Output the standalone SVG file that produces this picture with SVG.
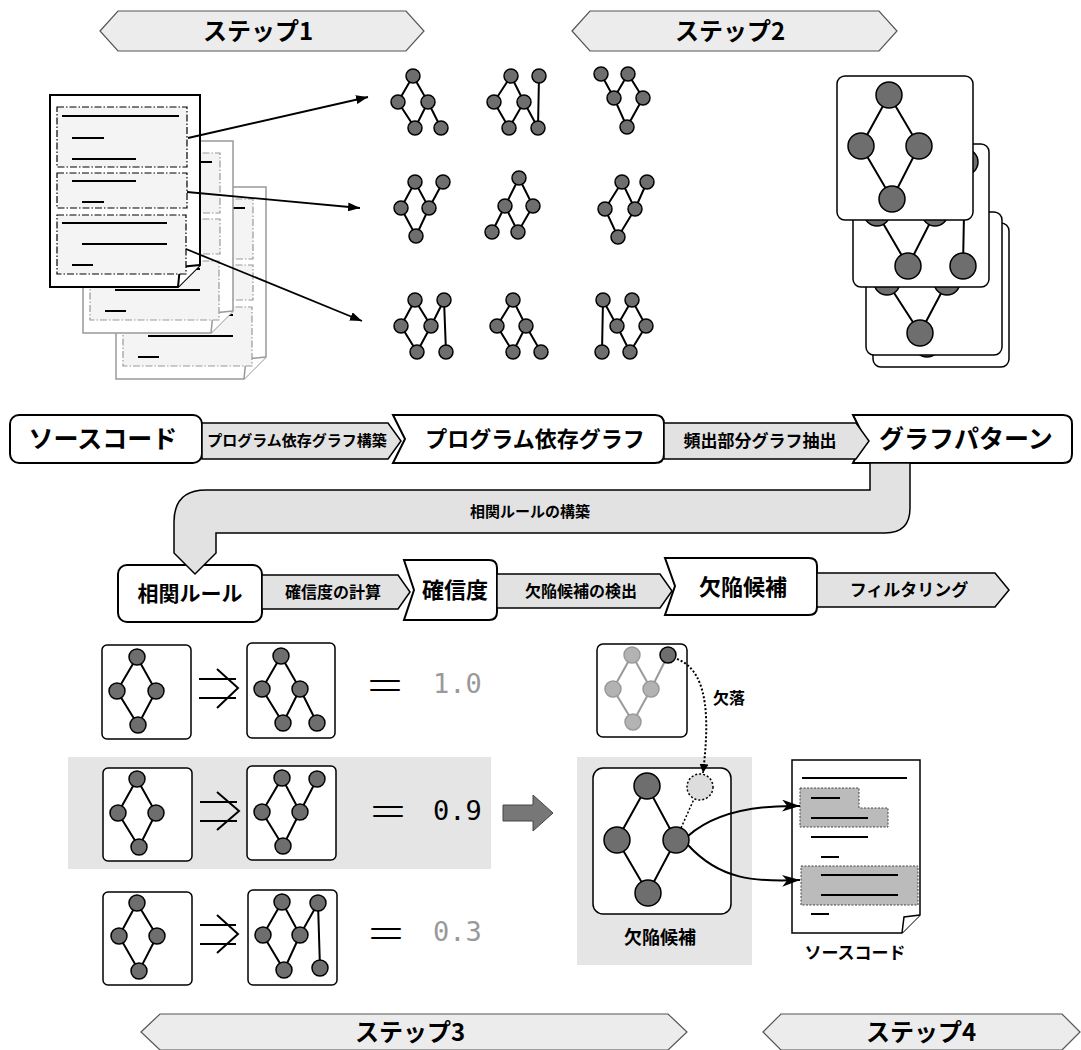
<svg xmlns="http://www.w3.org/2000/svg" width="1081" height="1050" viewBox="0 0 1081 1050">
<style>
text{font-family:"Noto Sans CJK JP","Noto Sans",sans-serif;font-weight:bold;fill:#000;text-anchor:middle}
.step{fill:#ececec;stroke:#555;stroke-width:1.2}
.st{font-size:24px}
.n{fill:#6e6e6e;stroke:#000;stroke-width:1.5}
.e{stroke:#000;stroke-width:2;fill:none}
.card{fill:#fff;stroke:#000;stroke-width:1.5}
.box{fill:#fff;stroke:#000;stroke-width:2}
.band{fill:#e2e2e2;stroke:#000;stroke-width:1.5}
.ln{stroke:#000;stroke-width:2}
.num{font-family:"DejaVu Sans Mono",monospace;font-weight:normal;font-size:27px;text-anchor:start}
.eq{font-weight:300;font-size:40px}
.hl{fill:#e5e5e5}
</style>
<defs>
<marker id="ah" viewBox="0 0 12 9" refX="12" refY="4.5" markerWidth="12" markerHeight="9" markerUnits="userSpaceOnUse" orient="auto"><path d="M0,0 L12,4.5 L0,9 Z" fill="#000"/></marker>
<marker id="ah2" viewBox="0 0 18 12" refX="18" refY="6" markerWidth="18" markerHeight="12" markerUnits="userSpaceOnUse" orient="auto"><path d="M0,0 L18,6 L0,12 L5,6 Z" fill="#000"/></marker>
<marker id="ah3" viewBox="0 0 9 9" refX="9" refY="4.5" markerWidth="9" markerHeight="9" markerUnits="userSpaceOnUse" orient="auto"><path d="M0,0 L9,4.5 L0,9 Z" fill="#000"/></marker>
<g id="doc">
<path d="M0,0 H150 V170 L128,192 H0 Z" fill="#fff"/>
<path d="M128,192 L130,172 L150,170" fill="#fff"/>
<g fill="#f4f4f4" stroke-dasharray="7,2,1.5,2" stroke-width="1.2">
<rect x="7" y="12" width="130" height="60"/>
<rect x="7" y="78" width="130" height="35"/>
<rect x="7" y="120" width="129" height="59"/>
</g>
<g stroke="#000" stroke-width="2">
<line x1="12" y1="21" x2="129" y2="21"/>
<line x1="22" y1="43" x2="54" y2="43"/>
<line x1="22" y1="64" x2="86" y2="64"/>
<line x1="22" y1="86" x2="86" y2="86"/>
<line x1="32" y1="107" x2="54" y2="107"/>
<line x1="12" y1="128" x2="117" y2="128"/>
<line x1="32" y1="149" x2="117" y2="149"/>
<line x1="22" y1="170" x2="43" y2="170"/>
</g>
</g>
</defs>

<!-- step banners -->
<g id="step1"><polygon class="step" points="100,31 118,11 406,11 424,31 406,51 118,51"/><text class="st" x="258" y="40">ステップ1</text></g>
<g id="step2"><polygon class="step" points="572,31 590,11 879,11 897,31 879,51 590,51"/><text class="st" x="730" y="40">ステップ2</text></g>
<g id="step3"><polygon class="step" points="141,1032 160,1014 668,1014 687,1032 668,1050 160,1050"/><text class="st" x="410" y="1041">ステップ3</text></g>
<g id="step4"><polygon class="step" points="763,1032 781,1014 1062,1014 1080,1032 1062,1050 781,1050"/><text class="st" x="921" y="1041">ステップ4</text></g>

<!-- highlight backgrounds -->
<rect class="hl" x="68" y="757" width="423" height="112"/>
<rect class="hl" x="577" y="757" width="175" height="208"/>

<!-- source documents -->
<g id="documents">
<use href="#doc" transform="translate(116,187)" stroke="#999" stroke-width="1.5"/>
<use href="#doc" transform="translate(83,141)" stroke="#999" stroke-width="1.5"/>
<use href="#doc" transform="translate(50,95)" stroke="#000" stroke-width="2"/>
</g>

<!-- graph patterns -->
<g id="patterns">
<g id="p1"><path class="e" d="M413,76 L398,102 L415,128 L428,102 Z M428,102 L441,128"/>
<circle class="n" cx="413" cy="76" r="7"/><circle class="n" cx="398" cy="102" r="7"/><circle class="n" cx="428" cy="102" r="7"/><circle class="n" cx="415" cy="128" r="7"/><circle class="n" cx="441" cy="128" r="7"/></g>
<g id="p2"><path class="e" d="M511,76 L494,102 L509,128 L524,102 Z M524,102 L538,128 M539,76 L538,128"/>
<circle class="n" cx="511" cy="76" r="7"/><circle class="n" cx="494" cy="102" r="7"/><circle class="n" cx="524" cy="102" r="7"/><circle class="n" cx="509" cy="128" r="7"/><circle class="n" cx="538" cy="128" r="7"/><circle class="n" cx="539" cy="76" r="7"/></g>
<g id="p3"><path class="e" d="M628,74 L614,98 L627,127 L643,98 Z M601,74 L614,98"/>
<circle class="n" cx="601" cy="74" r="7"/><circle class="n" cx="628" cy="74" r="7"/><circle class="n" cx="614" cy="98" r="7"/><circle class="n" cx="643" cy="98" r="7"/><circle class="n" cx="627" cy="127" r="7"/></g>
<g id="p4"><path class="e" d="M415,182 L401,208 L416,236 L429,208 Z M429,208 L443,182"/>
<circle class="n" cx="415" cy="182" r="7"/><circle class="n" cx="443" cy="182" r="7"/><circle class="n" cx="401" cy="208" r="7"/><circle class="n" cx="429" cy="208" r="7"/><circle class="n" cx="416" cy="236" r="7"/></g>
<g id="p5"><path class="e" d="M519,178 L505,206 L518,232 L533,206 Z M505,206 L492,232"/>
<circle class="n" cx="519" cy="178" r="7"/><circle class="n" cx="505" cy="206" r="7"/><circle class="n" cx="533" cy="206" r="7"/><circle class="n" cx="492" cy="232" r="7"/><circle class="n" cx="518" cy="232" r="7"/></g>
<g id="p6"><path class="e" d="M622,182 L605,209 L618,237 L635,209 Z M635,209 L647,182"/>
<circle class="n" cx="622" cy="182" r="7"/><circle class="n" cx="647" cy="182" r="7"/><circle class="n" cx="605" cy="209" r="7"/><circle class="n" cx="635" cy="209" r="7"/><circle class="n" cx="618" cy="237" r="7"/></g>
<g id="p7"><path class="e" d="M415,300 L401,326 L417,352 L431,326 Z M431,326 L444,300 L446,352"/>
<circle class="n" cx="415" cy="300" r="7"/><circle class="n" cx="444" cy="300" r="7"/><circle class="n" cx="401" cy="326" r="7"/><circle class="n" cx="431" cy="326" r="7"/><circle class="n" cx="417" cy="352" r="7"/><circle class="n" cx="446" cy="352" r="7"/></g>
<g id="p8"><path class="e" d="M513,300 L497,326 L513,352 L526,326 Z M526,326 L541,352"/>
<circle class="n" cx="513" cy="300" r="7"/><circle class="n" cx="497" cy="326" r="7"/><circle class="n" cx="526" cy="326" r="7"/><circle class="n" cx="513" cy="352" r="7"/><circle class="n" cx="541" cy="352" r="7"/></g>
<g id="p9"><path class="e" d="M632,300 L617,326 L630,352 L646,326 Z M617,326 L603,300 L602,352"/>
<circle class="n" cx="603" cy="300" r="7"/><circle class="n" cx="632" cy="300" r="7"/><circle class="n" cx="617" cy="326" r="7"/><circle class="n" cx="646" cy="326" r="7"/><circle class="n" cx="602" cy="352" r="7"/><circle class="n" cx="630" cy="352" r="7"/></g>
</g>

<!-- stacked pattern cards -->
<g id="cards">
<g id="card4"><rect class="card" x="873" y="223" width="136" height="144" rx="8"/>
<path class="e" d="M924,240 L894,293 L927,344 L954,293 Z"/>
<circle class="n" cx="924" cy="240" r="13"/><circle class="n" cx="894" cy="293" r="13"/><circle class="n" cx="954" cy="293" r="13"/><circle class="n" cx="927" cy="344" r="13"/></g>
<g id="card3"><rect class="card" x="866" y="212" width="136" height="143" rx="8"/>
<path class="e" d="M917,229 L887,282 L920,333 L947,282 Z"/>
<circle class="n" cx="917" cy="229" r="13"/><circle class="n" cx="887" cy="282" r="13"/><circle class="n" cx="947" cy="282" r="13"/><circle class="n" cx="920" cy="333" r="13"/></g>
<g id="card2"><rect class="card" x="853" y="144" width="136" height="143" rx="8"/>
<path class="e" d="M905,160 L877,213 L908,266 L935,213 Z M965,162 L963,266"/>
<circle class="n" cx="905" cy="160" r="13"/><circle class="n" cx="877" cy="213" r="13"/><circle class="n" cx="935" cy="213" r="13"/><circle class="n" cx="908" cy="266" r="13"/><circle class="n" cx="965" cy="162" r="13"/><circle class="n" cx="963" cy="266" r="13"/></g>
<g id="card1"><rect class="card" x="837" y="76" width="136" height="144" rx="8"/>
<path class="e" d="M889,95 L861,146 L892,199 L919,146 Z"/>
<circle class="n" cx="889" cy="95" r="13"/><circle class="n" cx="861" cy="146" r="13"/><circle class="n" cx="919" cy="146" r="13"/><circle class="n" cx="892" cy="199" r="13"/></g>
</g>

<!-- pipeline nodes -->
<g id="n-source"><rect class="box" x="10" y="415" width="192" height="48" rx="9"/><text x="103" y="448" font-size="25">ソースコード</text></g>
<g id="n-pdg"><path class="box" d="M393,415 H655 Q664,415 664,424 V454 Q664,463 655,463 H393 L405,439 Z"/><text x="535" y="447" font-size="22">プログラム依存グラフ</text></g>
<g id="n-pattern"><path class="box" d="M853,415 H1063 Q1072,415 1072,424 V454 Q1072,463 1063,463 H853 L865,439 Z"/><text x="966" y="448" font-size="25">グラフパターン</text></g>
<g id="n-rule"><rect class="box" x="118" y="565" width="144" height="57" rx="9"/><text x="190" y="601" font-size="21">相関ルール</text></g>
<g id="n-conf"><path class="box" d="M404,560 H489 Q497,560 497,568 V612 Q497,620 489,620 H404 L414,590 Z"/><text x="455" y="598" font-size="22">確信度</text></g>
<g id="n-cand"><path class="box" d="M665,558 H809 Q817,558 817,566 V607 Q817,615 809,615 H665 L675,586 Z"/><text x="743" y="595" font-size="22">欠陥候補</text></g>

<!-- rules -->
<g id="rule1">
<rect class="card" x="102" y="645" width="89" height="94" rx="5"/>
<path class="e" d="M137,657 L117,691 L138,725 L156,691 Z"/>
<circle class="n" cx="137" cy="657" r="8"/><circle class="n" cx="117" cy="691" r="8"/><circle class="n" cx="156" cy="691" r="8"/><circle class="n" cx="138" cy="725" r="8"/>
<path class="e" d="M199,679 H236 M199,698 H236 M217,669 L238,688 L217,708"/>
<rect class="card" x="247" y="643" width="88" height="95" rx="5"/>
<path class="e" d="M281,656 L262,689 L283,723 L300,689 Z M300,689 L317,723"/>
<circle class="n" cx="281" cy="656" r="8"/><circle class="n" cx="262" cy="689" r="8"/><circle class="n" cx="300" cy="689" r="8"/><circle class="n" cx="283" cy="723" r="8"/><circle class="n" cx="317" cy="723" r="8"/>
<text class="eq" x="385" y="700">＝</text>
<text class="num" x="433" y="693" style="fill:#999">1.0</text>
</g>
<g id="rule2">
<rect class="card" x="103" y="768" width="89" height="93" rx="5"/>
<path class="e" d="M137,779 L118,813 L139,847 L156,813 Z"/>
<circle class="n" cx="137" cy="779" r="8"/><circle class="n" cx="118" cy="813" r="8"/><circle class="n" cx="156" cy="813" r="8"/><circle class="n" cx="139" cy="847" r="8"/>
<path class="e" d="M200,802 H237 M200,821 H237 M217,792 L239,811 L217,830"/>
<rect class="card" x="247" y="766" width="89" height="94" rx="5"/>
<path class="e" d="M282,778 L262,812 L283,846 L300,812 Z M300,812 L317,779"/>
<circle class="n" cx="282" cy="778" r="8"/><circle class="n" cx="317" cy="779" r="8"/><circle class="n" cx="262" cy="812" r="8"/><circle class="n" cx="300" cy="812" r="8"/><circle class="n" cx="283" cy="846" r="8"/>
<text class="eq" x="388" y="826">＝</text>
<text class="num" x="433" y="820">0.9</text>
</g>
<g id="rule3">
<rect class="card" x="103" y="892" width="89" height="93" rx="5"/>
<path class="e" d="M137,903 L119,936 L139,971 L157,936 Z"/>
<circle class="n" cx="137" cy="903" r="8"/><circle class="n" cx="119" cy="936" r="8"/><circle class="n" cx="157" cy="936" r="8"/><circle class="n" cx="139" cy="971" r="8"/>
<path class="e" d="M200,925 H236 M200,944 H236 M217,915 L238,934 L217,953"/>
<rect class="card" x="248" y="890" width="89" height="95" rx="5"/>
<path class="e" d="M282,902 L263,935 L284,970 L300,935 Z M300,935 L318,903 L320,968"/>
<circle class="n" cx="282" cy="902" r="8"/><circle class="n" cx="318" cy="903" r="8"/><circle class="n" cx="263" cy="935" r="8"/><circle class="n" cx="300" cy="935" r="8"/><circle class="n" cx="284" cy="970" r="8"/><circle class="n" cx="320" cy="968" r="8"/>
<text class="eq" x="386" y="948">＝</text>
<text class="num" x="433" y="941" style="fill:#999">0.3</text>
</g>

<!-- defect candidate -->
<g id="missing-rule">
<rect class="card" x="597" y="644" width="90" height="93" rx="6"/>
<path d="M632,655 L613,689 L633,722 L651,689 Z M651,689 L668,655" fill="none" stroke="#999" stroke-width="2"/>
<g fill="#b3b3b3" stroke="#999" stroke-width="1.5">
<circle cx="632" cy="655" r="8"/><circle cx="613" cy="689" r="8"/><circle cx="651" cy="689" r="8"/><circle cx="633" cy="722" r="8"/></g>
<circle class="n" cx="668" cy="655" r="8"/>
<text x="729" y="704" font-size="16">欠落</text>
</g>
<g id="candidate">
<rect class="card" x="593" y="768" width="138" height="146" rx="10"/>
<path class="e" d="M647,786 L617,840 L648,893 L676,840 Z"/>
<line x1="681" y1="828" x2="694" y2="799" stroke="#000" stroke-width="1.5" stroke-dasharray="2,2"/>
<circle cx="700" cy="787" r="13" fill="#ddd" stroke="#000" stroke-width="1.5" stroke-dasharray="2,2"/>
<circle class="n" cx="647" cy="786" r="13"/><circle class="n" cx="617" cy="840" r="13"/><circle class="n" cx="676" cy="840" r="13"/><circle class="n" cx="648" cy="893" r="13"/>
<text x="660" y="944" font-size="18">欠陥候補</text>
</g>
<g id="sourcecode">
<path d="M792,760 H920 V915 L902,933 H792 Z" fill="#fff" stroke="#000" stroke-width="1.5"/>
<path d="M902,933 L904,917 L920,915" fill="#fff" stroke="#000" stroke-width="1.5"/>
<path d="M800,788 H859 V808 H888 V827 H800 Z" fill="#bbb" stroke="#444" stroke-width="1" stroke-dasharray="2,1.5"/>
<rect x="801" y="866" width="117" height="39" fill="#bbb" stroke="#444" stroke-width="1" stroke-dasharray="2,1.5"/>
<g class="ln">
<line x1="802" y1="778" x2="907" y2="778"/>
<line x1="811" y1="798" x2="840" y2="798"/>
<line x1="811" y1="818" x2="868" y2="818"/>
<line x1="811" y1="837" x2="868" y2="837"/>
<line x1="821" y1="857" x2="839" y2="857"/>
<line x1="821" y1="875" x2="898" y2="875"/>
<line x1="821" y1="895" x2="898" y2="895"/>
<line x1="811" y1="914" x2="829" y2="914"/>
</g>
<text x="855" y="959" font-size="17">ソースコード</text>
</g>

<!-- connectors -->
<g id="connectors">
<g><polygon class="band" points="202,423 388,423 401,441 388,459 202,459"/><text x="297" y="446" font-size="15">プログラム依存グラフ構築</text></g>
<g><polygon class="band" points="664,423 856,423 869,441 856,459 664,459"/><text x="760" y="447" font-size="17">頻出部分グラフ抽出</text></g>
<g><path class="band" d="M870,463 H910 V508 Q910,533 885,533 H216 V553 L195,574 L174,553 V522 Q174,490 206,490 H870 Z"/><text x="530" y="517" font-size="15">相関ルールの構築</text></g>
<g><polygon class="band" points="262,575 398,575 410,592 398,609 262,609"/><text x="333" y="598" font-size="16">確信度の計算</text></g>
<g><polygon class="band" points="497,574 660,574 672,591 660,608 497,608"/><text x="581" y="597" font-size="16">欠陥候補の検出</text></g>
<g><polygon class="band" points="817,573 995,573 1009,590 995,607 817,607"/><text x="909" y="596" font-size="17">フィルタリング</text></g>
<line x1="188" y1="138" x2="368" y2="97" stroke="#000" stroke-width="1.8" marker-end="url(#ah)"/>
<line x1="187" y1="192" x2="360" y2="208" stroke="#000" stroke-width="1.8" marker-end="url(#ah)"/>
<line x1="186" y1="249" x2="362" y2="321" stroke="#000" stroke-width="1.8" marker-end="url(#ah)"/>
<path d="M688,836 C715,812 755,805 800,806" fill="none" stroke="#000" stroke-width="2" marker-end="url(#ah2)"/>
<path d="M688,845 C720,880 755,882 800,880" fill="none" stroke="#000" stroke-width="2" marker-end="url(#ah2)"/>
<path d="M677,659 C712,672 708,730 703,773" fill="none" stroke="#000" stroke-width="2" stroke-dasharray="2,2" marker-end="url(#ah3)"/>
<polygon points="503,805 533,805 533,795 553,813 533,831 533,821 503,821" fill="#777" stroke="#444" stroke-width="1"/>
</g>
</svg>
